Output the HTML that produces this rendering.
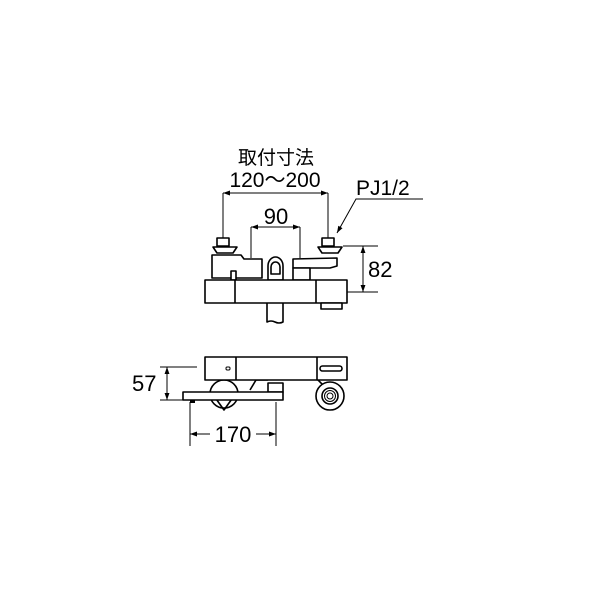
<!DOCTYPE html>
<html><head><meta charset="utf-8"><style>
html,body{margin:0;padding:0;background:#fff;}
svg{display:block;}
text{font-family:"Liberation Sans","Noto Sans CJK JP",sans-serif;fill:#000;}
</style></head><body>
<svg width="600" height="600" viewBox="0 0 600 600" xmlns="http://www.w3.org/2000/svg">
<defs>
<marker id="a" viewBox="0 0 10 10" refX="10" refY="5" markerWidth="7" markerHeight="7" orient="auto-start-reverse"><path d="M0,1.5 L10,5 L0,8.5 z" fill="#000"/></marker>
</defs>
<g stroke="#000" fill="none" stroke-width="1">
<line x1="223" y1="193" x2="223" y2="238"/>
<line x1="328" y1="193" x2="328" y2="238"/>
<line x1="223" y1="193" x2="328" y2="193" marker-start="url(#a)" marker-end="url(#a)"/>
<line x1="251" y1="227" x2="251" y2="258"/>
<line x1="300" y1="227" x2="300" y2="258"/>
<line x1="251" y1="227" x2="300" y2="227" marker-start="url(#a)" marker-end="url(#a)"/>
<polyline points="423,199 356,199 337,233" marker-end="url(#a)"/>
<line x1="343" y1="246" x2="378" y2="246"/>
<line x1="343" y1="292" x2="378" y2="292"/>
<line x1="363" y1="246" x2="363" y2="292" marker-start="url(#a)" marker-end="url(#a)"/>
</g>
<g stroke="#000" fill="#fff" stroke-width="1.6" stroke-linejoin="round">
<rect x="217" y="238" width="12" height="8"/>
<path d="M213,247 L237,247 L233,253 L217,253 Z"/>
<rect x="322" y="238" width="12" height="8"/>
<path d="M318,247 L342,247 L338,253 L322,253 Z"/>
<path d="M212,278 L212,255 L241,255 L244,259 L262,259 L262,278 Z"/>
<rect x="231" y="271" width="5" height="9"/>
<path d="M293,268 L293,259 L337,258 L337,266 L330,268 Z"/>
<rect x="293" y="268" width="17" height="12"/>
<path d="M268,280 L268,266 A7.5,9 0 0 1 283,266 L283,280 Z"/>
<path d="M271,274 L271,267 A4.5,5 0 0 1 280,267 L280,274 Z"/>
<path d="M267,303 L267,322 Q271,320 275,322 Q279,324 283,322 L283,303"/>
<rect x="205" y="280" width="142" height="23"/>
<line x1="235" y1="280" x2="235" y2="303"/>
<line x1="316" y1="280" x2="316" y2="303"/>
<rect x="321" y="303" width="21" height="6"/>
</g>
<g stroke="#000" fill="none" stroke-width="1">
<line x1="160" y1="367" x2="197" y2="367"/>
<line x1="160" y1="400" x2="184" y2="400"/>
<line x1="167" y1="367" x2="167" y2="400" marker-start="url(#a)" marker-end="url(#a)"/>
<line x1="190" y1="402" x2="190" y2="446"/>
<line x1="276" y1="402" x2="276" y2="446"/>
<line x1="190" y1="434" x2="210" y2="434" marker-start="url(#a)"/>
<line x1="256" y1="434" x2="276" y2="434" marker-end="url(#a)"/>
</g>
<g stroke="#000" fill="#fff" stroke-width="1.6" stroke-linejoin="round">
<circle cx="224" cy="394" r="14"/>
<path d="M214,396 L224,410 L234,396" fill="none"/>
<path d="M318,380 L330,392" fill="none"/>
<path d="M250,390 L256,380 L268,380" fill="none"/>
<circle cx="330" cy="396" r="14"/>
<circle cx="330" cy="396" r="8"/>
<circle cx="330" cy="396" r="5.5" fill="none" stroke-width="1"/>
<circle cx="330" cy="396" r="3" fill="none" stroke-width="1"/>
<rect x="205" y="357" width="142" height="23"/>
<line x1="236" y1="357" x2="236" y2="380"/>
<line x1="317" y1="357" x2="317" y2="380"/>
<rect x="226" y="367" width="4" height="3" rx="1.2" stroke-width="1"/>
<rect x="320" y="366" width="22" height="5" rx="2.5"/>
<rect x="268" y="383" width="15" height="9"/>
<rect x="183" y="392" width="100" height="8"/>
</g>
<rect x="190" y="400" width="5" height="3" fill="#000"/>
<text x="276" y="164" font-size="19" text-anchor="middle">取付寸法</text>
<text x="275" y="187" font-size="21" text-anchor="middle">120～200</text>
<text x="276" y="224" font-size="22" text-anchor="middle">90</text>
<text x="356" y="195" font-size="21">PJ1/2</text>
<text x="368" y="277" font-size="22">82</text>
<text x="132" y="391" font-size="22">57</text>
<text x="233" y="442" font-size="22" text-anchor="middle">170</text>
</svg>
</body></html>
